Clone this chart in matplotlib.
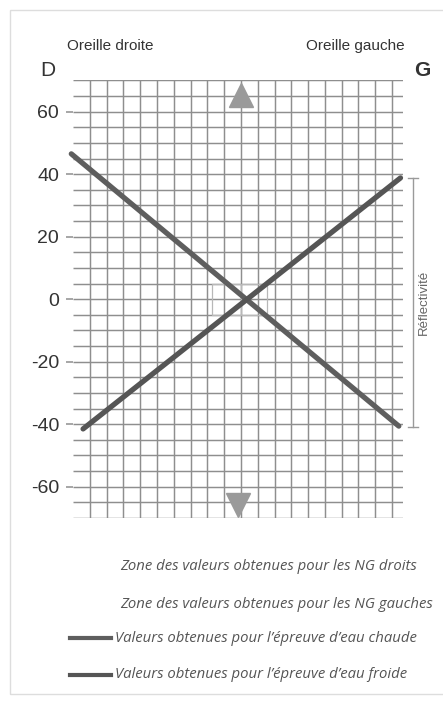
import matplotlib
matplotlib.use("Agg")
import matplotlib.pyplot as plt
from matplotlib.patches import Rectangle
import numpy as np

# ---- data ----
y_ticks = [-60, -40, -20, 0, 20, 40, 60]
y_tick_labels = ["-60", "-40", "-20", "0", "20", "40", "60"]
h_grid = list(range(-70, 75, 5))
v_grid = list(range(-9, 10))

x_chaude = [-10.1, 9.4]
y_chaude = [46.5, -40.6]
x_froide = [-9.4, 9.5]
y_froide = [-41.5, 38.8]

zone_droits = (-1.7, 0.0, -5, 5)    # x0, x1, y0, y1
zone_gauches = (0.0, 1.55, -5, 5)
reflect_range = (-40.9, 38.8)

legend_labels = [
    "Zone des valeurs obtenues pour les NG droits",
    "Zone des valeurs obtenues pour les NG gauches",
    "Valeurs obtenues pour l\u2019\u00e9preuve d\u2019eau chaude",
    "Valeurs obtenues pour l\u2019\u00e9preuve d\u2019eau froide",
]

W, H = 443, 704
fig = plt.figure(figsize=(W / 100, H / 100), dpi=100)

def fx(px):
    return px / W

def fy(py):
    return 1 - py / H

# frame
fig.add_artist(Rectangle((fx(10), fy(694)), fx(445) - fx(10), fy(10) - fy(694),
                         transform=fig.transFigure, fill=False,
                         edgecolor="#dddddd", lw=1.0))

ax_left, ax_right, ax_top, ax_bot = 73, 403, 80.4, 518
ax = fig.add_axes([fx(ax_left), fy(ax_bot), fx(ax_right) - fx(ax_left),
                   fy(ax_top) - fy(ax_bot)])
ax.set_xlim(-10, 9.65)
ax.set_ylim(-70, 70)
for s in ax.spines.values():
    s.set_visible(False)
ax.set_xticks([])
ax.set_yticks(y_ticks)
ax.set_yticklabels(y_tick_labels, fontfamily="Liberation Sans", fontsize=14,
                   color="#333333")
ax.tick_params(axis="y", length=5, width=1.1, color="#8e8e8e", pad=5)

gcol = "#8e8e8e"
ax.hlines(h_grid, -10, 9.65, color=gcol, lw=1.05, zorder=1)
ax.vlines(v_grid, -70, 70, color=gcol, lw=1.05, zorder=1)

# zones
for (x0, x1, y0, y1) in (zone_droits, zone_gauches):
    ax.add_patch(Rectangle((x0, y0), x1 - x0, y1 - y0, fill=False,
                           edgecolor="#b8b8b8", lw=0.9, zorder=2))

# arrows
ax.plot([0], [65.2], marker="^", markersize=17, color="#9a9a9a",
        linestyle="none", clip_on=False, zorder=3)
ax.plot([-0.2], [-65.9], marker="v", markersize=17, color="#9a9a9a",
        linestyle="none", clip_on=False, zorder=3)

# lines
c_chaude = "#5e5e5e"
c_froide = "#555555"
ax.plot(x_chaude, y_chaude, color=c_chaude, lw=3.8, solid_capstyle="round",
        clip_on=False, zorder=4)
ax.plot(x_froide, y_froide, color=c_froide, lw=3.8, solid_capstyle="round",
        clip_on=False, zorder=4)

# reflectivity bracket
xb = 10.25
ax.plot([xb, xb], list(reflect_range), color="#9a9a9a", lw=1.0, clip_on=False)
for yv in reflect_range:
    ax.plot([xb - 0.3, xb + 0.3], [yv, yv], color="#9a9a9a", lw=1.0,
            clip_on=False)
ax.text(xb + 0.65, np.mean(reflect_range), "R\u00e9flectivit\u00e9",
        rotation=90, va="center", ha="center", fontsize=9.5,
        fontfamily="Liberation Sans", color="#666666", clip_on=False)

# header texts
fig.text(fx(67), fy(46), "Oreille droite", fontsize=11,
         fontfamily="Liberation Sans", color="#333333", va="center", ha="left")
fig.text(fx(405), fy(46), "Oreille gauche", fontsize=11,
         fontfamily="Liberation Sans", color="#333333", va="center", ha="right")
fig.text(fx(48), fy(70), "D", fontsize=15, fontfamily="Liberation Sans",
         color="#333333", va="center", ha="center")
fig.text(fx(422), fy(70), "G", fontsize=15, fontfamily="Liberation Sans",
         fontweight="bold", color="#333333", va="center", ha="center")

# legend
leg_y = [566, 604, 638, 675]
leg_x = [120, 120, 115, 115]
for lab, yy, xx in zip(legend_labels, leg_y, leg_x):
    fig.text(fx(xx), fy(yy), lab, fontsize=10.7, fontstyle="italic",
             fontfamily="Open Sans", color="#555555", va="center", ha="left")
for yy, col in zip(leg_y[2:], [c_chaude, c_froide]):
    fig.add_artist(plt.Line2D([fx(70), fx(111)], [fy(yy), fy(yy)],
                              transform=fig.transFigure, color=col, lw=3.0))

fig.savefig("out.png", dpi=100, facecolor="white")
